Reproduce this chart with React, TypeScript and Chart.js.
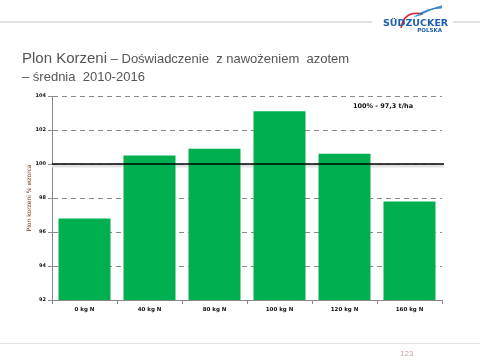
import React, { useEffect, useRef } from "react";
import { Chart, registerables } from "chart.js";

Chart.register(...registerables);

const categories = ["0 kg N", "40 kg N", "80 kg N", "100 kg N", "120 kg N", "160 kg N"];
const values = [96.8, 100.5, 100.9, 103.1, 100.6, 97.8];
const referenceValue = 100;
const yMin = 92;
const yMax = 104;
const yStep = 2;
const annotationText = "100% - 97,3 t/ha";
const yAxisTitle = "Plon korzeni % wzorca";
const titleMain = "Plon Korzeni";
const titleRest = " – Doświadczenie  z nawożeniem  azotem";
const titleLine2 = "– średnia  2010-2016";
const pageNumber = "123";

const decorPlugin = {
  id: "decor",
  beforeDraw(chart: any) {
    const ctx = chart.ctx;
    ctx.save();
    ctx.fillStyle = "#ffffff";
    ctx.fillRect(0, 0, chart.width, chart.height);
    // header line
    ctx.fillStyle = "#e3e3e3";
    ctx.fillRect(0, 21, 372, 2);
    ctx.fillRect(453, 21, 27, 2);
    // footer line
    ctx.fillRect(0, 343, 480, 1);
    // logo
    ctx.strokeStyle = "#e0202a";
    ctx.lineWidth = 1.5;
    ctx.beginPath();
    ctx.moveTo(401, 28);
    ctx.quadraticCurveTo(404, 10, 423, 14);
    ctx.stroke();
    ctx.strokeStyle = "#2a78c8";
    ctx.lineWidth = 0.8;
    for (let i = 0; i < 4; i++) {
      ctx.beginPath();
      ctx.moveTo(414 + i * 2, 17 - i * 0.5);
      ctx.quadraticCurveTo(426, 8 + i, 442, 8 - i * 0.8);
      ctx.stroke();
    }
    ctx.fillStyle = "#1c5fae";
    ctx.font = "bold 9.5px 'DejaVu Sans'";
    ctx.textBaseline = "alphabetic";
    ctx.textAlign = "left";
    ctx.fillText("SÜDZUCKER", 383, 26);
    ctx.font = "bold 5.5px 'DejaVu Sans'";
    ctx.textAlign = "right";
    ctx.fillText("POLSKA", 442, 32);
    // title
    ctx.textAlign = "left";
    ctx.fillStyle = "#555555";
    ctx.font = "15px 'Liberation Sans'";
    ctx.fillText(titleMain, 22, 63);
    const w = ctx.measureText(titleMain).width;
    ctx.font = "13px 'Liberation Sans'";
    ctx.fillText(titleRest, 22 + w, 63);
    ctx.fillText(titleLine2, 22, 81);
    // page number
    ctx.fillStyle = "#c8a0a0";
    ctx.font = "8px 'Liberation Sans'";
    ctx.fillText(pageNumber, 400, 356);
    ctx.restore();
  },
  beforeDatasetsDraw(chart: any) {
    const ctx = chart.ctx;
    const y = chart.scales.y.getPixelForValue(referenceValue);
    const area = chart.chartArea;
    ctx.save();
    ctx.strokeStyle = "#e2e2e2";
    ctx.lineWidth = 3;
    ctx.beginPath();
    ctx.moveTo(area.left, y + 2);
    ctx.lineTo(area.right + 2, y + 2);
    ctx.stroke();
    ctx.restore();
  },
  afterDatasetsDraw(chart: any) {
    const ctx = chart.ctx;
    const y = chart.scales.y.getPixelForValue(referenceValue);
    const area = chart.chartArea;
    ctx.save();
    ctx.strokeStyle = "#000000";
    ctx.lineWidth = 1.6;
    ctx.beginPath();
    ctx.moveTo(area.left, y);
    ctx.lineTo(area.right + 2, y);
    ctx.stroke();
    ctx.fillStyle = "#111111";
    ctx.font = "bold 6.5px 'DejaVu Sans'";
    ctx.textAlign = "left";
    ctx.textBaseline = "middle";
    ctx.fillText(annotationText, 353, chart.scales.y.getPixelForValue(103.4));
    ctx.restore();
  },
};

export default function App() {
  const ref = useRef<HTMLCanvasElement>(null);
  useEffect(() => {
    document.body.style.margin = "0";
    const chart = new Chart(ref.current as HTMLCanvasElement, {
      type: "bar",
      data: {
        labels: categories,
        datasets: [
          {
            data: values,
            backgroundColor: "#00b050",
            categoryPercentage: 0.8,
            barPercentage: 1,
          },
        ],
      },
      options: {
        animation: false,
        responsive: false,
        maintainAspectRatio: false,
        layout: { padding: { left: 26, top: 96, right: 38, bottom: 40 } },
        plugins: { legend: { display: false }, tooltip: { enabled: false } },
        scales: {
          x: {
            afterFit(scale: any) {
              scale.height = 20;
            },
            grid: {
              display: true,
              drawOnChartArea: false,
              offset: true,
              tickLength: 4,
              color: "#888888",
            },
            border: { color: "#888888", width: 1 },
            ticks: {
              color: "#111111",
              font: { family: "DejaVu Sans", size: 5.5, weight: "bold" },
              padding: 2,
              maxRotation: 0,
            },
          },
          y: {
            min: yMin,
            max: yMax,
            afterFit(scale: any) {
              scale.width = 26;
            },
            grid: {
              color: "#8a8a8a",
              tickLength: 4,
              drawTicks: true,
            },
            border: { color: "#888888", width: 1, dash: [5, 4] },
            ticks: {
              stepSize: yStep,
              color: "#111111",
              font: { family: "DejaVu Sans", size: 5, weight: "bold" },
              padding: 2,
            },
            title: {
              display: true,
              text: yAxisTitle,
              color: "#7a3a10",
              font: { family: "DejaVu Sans", size: 6 },
              padding: { top: 0, bottom: 0 },
            },
          },
        },
      },
      plugins: [decorPlugin],
    } as any);
    return () => chart.destroy();
  }, []);
  return (
    <div style={{ position: "absolute", left: 0, top: 0, width: 480, height: 360 }}>
      <canvas ref={ref} width={480} height={360} style={{ width: 480, height: 360 }} />
    </div>
  );
}
